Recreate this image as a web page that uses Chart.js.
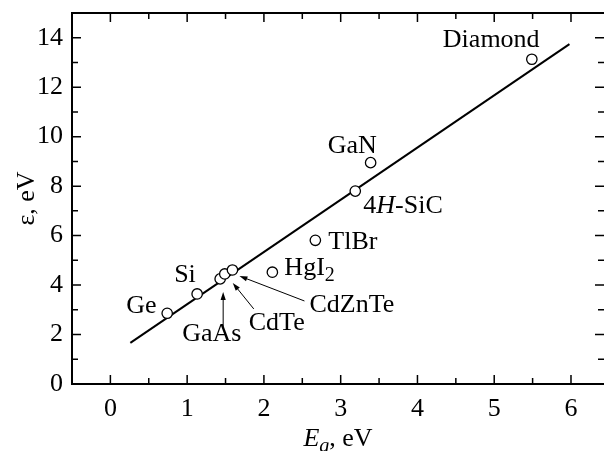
<!DOCTYPE html>
<html>
<head>
<meta charset="utf-8">
<script src="https://cdn.jsdelivr.net/npm/chart.js@4.4.0/dist/chart.umd.min.js"></script>
<style>
  body { margin: 0; background: #fff; }
  canvas { display: block; }
</style>
</head>
<body>
<canvas id="chart" width="604" height="451"></canvas>
<script>
// materials and their (Eg, epsilon) points
const materials = ['Ge', 'Si', 'GaAs', 'CdTe', 'CdZnTe', 'HgI2', 'TlBr', '4H-SiC', 'GaN', 'Diamond'];
const bandGap = [0.74, 1.13, 1.43, 1.49, 1.59, 2.11, 2.67, 3.19, 3.39, 5.49];
const pairEnergy = [2.86, 3.64, 4.25, 4.45, 4.61, 4.52, 5.81, 7.80, 8.95, 13.13];

// fitted straight line (end points)
const fitEg = [0.26, 5.98];
const fitEps = [1.66, 13.74];

const xTicks = [0, 1, 2, 3, 4, 5, 6];
const yTicks = [0, 2, 4, 6, 8, 10, 12, 14];

const FONT = "'Liberation Serif', 'Times New Roman', serif";

// label placement, px offsets from the point: [dx to left edge, dy to baseline]
const labelOffset = {
  'Ge': [-41, 0], 'Si': [-23, -12], 'GaAs': [-38, 62], 'CdTe': [24, 56],
  'CdZnTe': [77, 42], 'HgI2': [12, 3], 'TlBr': [13, 9], '4H-SiC': [8, 22],
  'GaN': [-43, -10], 'Diamond': [-89, -12]
};
// arrows, px offsets from the point: [startX, startY, tipX, tipY]
const arrowOffset = {
  'GaAs': [3, 48, 3, 13],
  'CdTe': [29, 35, 8, 9],
  'CdZnTe': [72, 31, 7, 6]
};

function labelParts(name) {
  if (name === 'HgI2') return [{ t: 'HgI' }, { t: '2', sub: true }];
  if (name === '4H-SiC') return [{ t: '4' }, { t: 'H', it: true }, { t: '-SiC' }];
  return [{ t: name }];
}

function drawRich(ctx, parts, x, y, size) {
  ctx.textAlign = 'left';
  ctx.textBaseline = 'alphabetic';
  parts.forEach(p => {
    const s = p.sub ? Math.round(size * 0.75) : size;
    ctx.font = (p.it ? 'italic ' : '') + s + 'px ' + FONT;
    ctx.fillText(p.t, x, p.sub ? y + 6 : y);
    x += ctx.measureText(p.t).width;
  });
}

function arrow(ctx, x1, y1, x2, y2) {
  const ang = Math.atan2(y2 - y1, x2 - x1);
  const len = 8, w = 2.6;
  ctx.beginPath();
  ctx.moveTo(x1, y1);
  ctx.lineTo(x2 - Math.cos(ang) * len * 0.8, y2 - Math.sin(ang) * len * 0.8);
  ctx.stroke();
  ctx.beginPath();
  ctx.moveTo(x2, y2);
  ctx.lineTo(x2 - Math.cos(ang) * len - Math.sin(ang) * w, y2 - Math.sin(ang) * len + Math.cos(ang) * w);
  ctx.lineTo(x2 - Math.cos(ang) * len + Math.sin(ang) * w, y2 - Math.sin(ang) * len - Math.cos(ang) * w);
  ctx.closePath();
  ctx.fill();
}

const decorations = {
  id: 'decorations',
  afterDraw(chart) {
    const { ctx, chartArea: a, scales: { x, y } } = chart;
    ctx.save();
    ctx.strokeStyle = '#000';
    ctx.fillStyle = '#000';

    // frame (right side falls off the picture)
    ctx.lineWidth = 2;
    ctx.beginPath();
    ctx.moveTo(a.right + 2, a.top);
    ctx.lineTo(a.left, a.top);
    ctx.lineTo(a.left, a.bottom);
    ctx.lineTo(a.right + 2, a.bottom);
    ctx.stroke();

    // inward ticks on all four sides
    ctx.lineWidth = 1.5;
    ctx.beginPath();
    for (let v = -0.5; v <= 6.5; v += 0.5) {
      const px = x.getPixelForValue(v);
      if (px < a.left + 2 || px > a.right - 1) continue;
      const len = Number.isInteger(v) ? 9 : 6;
      ctx.moveTo(px, a.bottom); ctx.lineTo(px, a.bottom - len);
      ctx.moveTo(px, a.top); ctx.lineTo(px, a.top + len);
    }
    for (let v = 1; v < 15; v += 1) {
      const py = y.getPixelForValue(v);
      const len = v % 2 === 0 ? 9 : 6;
      ctx.moveTo(a.left, py); ctx.lineTo(a.left + len, py);
      ctx.moveTo(a.right, py); ctx.lineTo(a.right - len, py);
    }
    ctx.stroke();

    // point labels
    materials.forEach((name, i) => {
      const px = x.getPixelForValue(bandGap[i]);
      const py = y.getPixelForValue(pairEnergy[i]);
      const o = labelOffset[name];
      drawRich(ctx, labelParts(name), px + o[0], py + o[1], 26);
      const ar = arrowOffset[name];
      if (ar) {
        ctx.lineWidth = 1;
        arrow(ctx, px + ar[0], py + ar[1], px + ar[2], py + ar[3]);
      }
    });

    // axis titles
    const cx = (a.left + a.right) / 2;
    const xt = [{ t: 'E', it: true }, { t: 'g', it: true, sub: true }, { t: ', eV' }];
    let w = 0;
    xt.forEach(p => {
      ctx.font = (p.it ? 'italic ' : '') + (p.sub ? 20 : 26) + 'px ' + FONT;
      w += ctx.measureText(p.t).width;
    });
    drawRich(ctx, xt, cx - w / 2, 446, 26);

    ctx.translate(27, (a.top + a.bottom) / 2);
    ctx.rotate(-Math.PI / 2);
    ctx.font = '26px ' + FONT;
    ctx.textAlign = 'center';
    ctx.textBaseline = 'middle';
    ctx.fillText('\u03B5, eV', 0, 0);
    ctx.restore();
  }
};

new Chart(document.getElementById('chart'), {
  type: 'scatter',
  data: {
    datasets: [
      {
        label: 'materials',
        data: bandGap.map((v, i) => ({ x: v, y: pairEnergy[i] })),
        pointRadius: 5.2,
        pointBackgroundColor: '#fff',
        pointBorderColor: '#000',
        pointBorderWidth: 1.3,
        order: 0
      },
      {
        label: 'fit',
        data: fitEg.map((v, i) => ({ x: v, y: fitEps[i] })),
        showLine: true,
        borderColor: '#000',
        borderWidth: 2,
        pointRadius: 0,
        order: 1
      }
    ]
  },
  options: {
    responsive: false,
    animation: false,
    layout: { autoPadding: false, padding: { top: 13, right: 0, left: 0, bottom: 0 } },
    plugins: { legend: { display: false }, tooltip: { enabled: false } },
    scales: {
      x: {
        type: 'linear',
        min: -0.5,
        max: 6.43,
        grid: { display: false, drawTicks: false },
        border: { display: false },
        afterBuildTicks: s => { s.ticks = xTicks.map(v => ({ value: v })); },
        afterFit: s => { s.height = 67; s.paddingLeft = 0; s.paddingRight = 0; },
        ticks: { color: '#000', padding: 10, maxRotation: 0, font: { family: FONT, size: 26 } }
      },
      y: {
        min: 0,
        max: 15,
        grid: { display: false, drawTicks: false },
        border: { display: false },
        afterBuildTicks: s => { s.ticks = yTicks.map(v => ({ value: v })); },
        afterFit: s => { s.width = 72; s.paddingTop = 0; s.paddingBottom = 0; },
        ticks: { color: '#000', padding: 9, font: { family: FONT, size: 26 } }
      }
    }
  },
  plugins: [decorations]
});
</script>
</body>
</html>
